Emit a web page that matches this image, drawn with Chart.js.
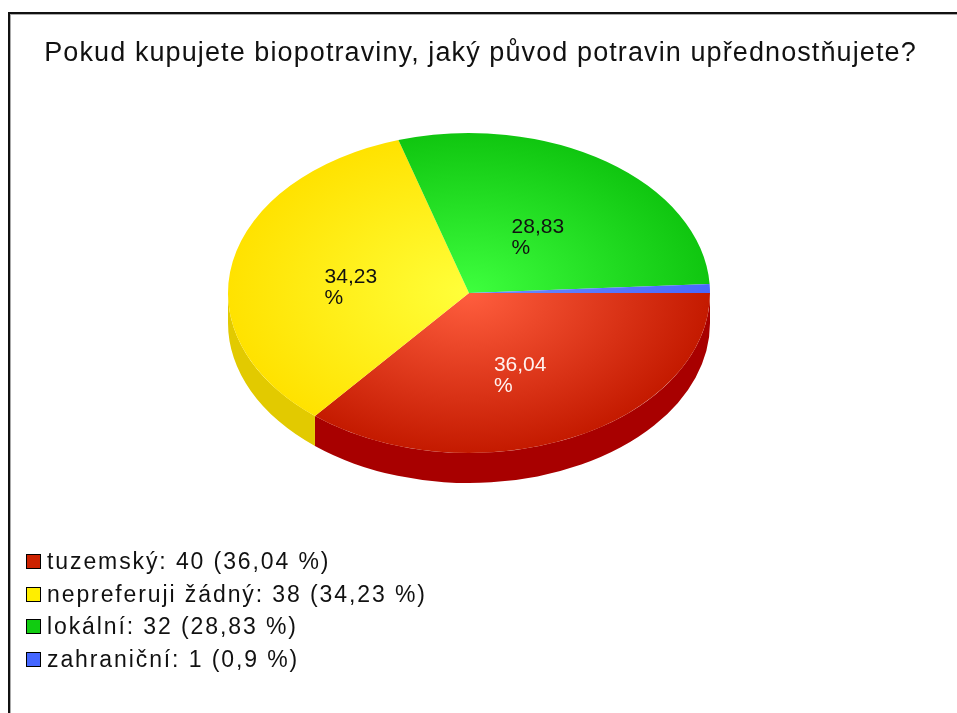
<!DOCTYPE html>
<html lang="cs">
<head>
  <meta charset="UTF-8" />
  <title>Původ biopotravin</title>

  <!-- Chart.js -->
  <script src="https://cdn.jsdelivr.net/npm/chart.js"></script>

  <style>
    html, body { margin: 0; padding: 0; background: #fff; overflow: hidden; }
    body { width: 957px; height: 713px; position: relative; font-family: "Liberation Sans", Arial, sans-serif; color: #111; }
    .frame {
      position: absolute; left: 8px; top: 12px; width: 1000px; height: 800px;
      border-top: 2px solid #111; border-left: 2px solid #111;
      box-shadow: inset 1px 1px 0 #aaa;
    }
    #pieChart { position: absolute; left: 0; top: 0; }
    .title { position: absolute; left: 4px; right: 0; top: 37px; text-align: center; font-size: 27px; line-height: 30px; letter-spacing: 1.1px; white-space: nowrap; }
    .legend { position: absolute; left: 26px; top: 545px; font-size: 23px; letter-spacing: 1.9px; }
    .legend .item { height: 32.7px; display: flex; align-items: center; white-space: nowrap; }
    .legend .box { width: 13px; height: 13px; border: 1px solid #000; margin-right: 6px; flex: none; }
  </style>
</head>
<body>

<div class="frame"></div>
<canvas id="pieChart" width="957" height="713"></canvas>
<div class="title" id="title"></div>
<div class="legend" id="legend"></div>

<script>
  const chartTitle = 'Pokud kupujete biopotraviny, jaký původ potravin upřednostňujete?';
  const categories = ['tuzemský', 'nepreferuji žádný', 'lokální', 'zahraniční'];
  const counts = [40, 38, 32, 1];
  const percentLabels = ['36,04', '34,23', '28,83', '0,9'];

  // Farben: Oberseite (Verlauf hell -> dunkel), Seitenwand, Legende, Beschriftung
  const topLight = ['#ff5e3e', '#ffff3a', '#3eff3e', '#6c8cff'];
  const topDark = ['#c41a00', '#ffe200', '#10c610', '#4868ff'];
  const sideColors = ['#a80000', '#e2ca00', '#0a9a0a', '#3050d0'];
  const legendColors = ['#cc2200', '#ffee00', '#11cc11', '#4466ff'];
  const labelColors = ['#fff2f0', '#111', '#111', '#111'];

  const total = counts.reduce((a, b) => a + b, 0);

  document.getElementById('title').textContent = chartTitle;

  // Legende aus den Daten bauen
  const legendEl = document.getElementById('legend');
  categories.forEach((cat, i) => {
    const row = document.createElement('div');
    row.className = 'item';
    const box = document.createElement('span');
    box.className = 'box';
    box.style.background = legendColors[i];
    row.appendChild(box);
    row.appendChild(document.createTextNode(cat + ': ' + counts[i] + ' (' + percentLabels[i] + ' %)'));
    legendEl.appendChild(row);
  });

  // Pseudo-3D: Seitenwand zeichnen, dann Oberseite vertikal gestaucht
  const pie3d = {
    id: 'pie3d',
    beforeDatasetsDraw(chart, args, opts) {
      const meta = chart.getDatasetMeta(0);
      const c = chart.ctx;
      const first = meta.data[0];
      const cx = first.x, cy = first.y, r = first.outerRadius;
      const k = opts.squash, d = opts.depth;
      meta.data.forEach((arc, i) => {
        const a0 = Math.max(arc.startAngle, 0);
        const a1 = Math.min(arc.endAngle, Math.PI);
        if (a1 <= a0) return;
        c.beginPath();
        c.ellipse(cx, cy, r, r * k, 0, a0, a1);
        c.ellipse(cx, cy + d, r, r * k, 0, a1, a0, true);
        c.closePath();
        c.fillStyle = sideColors[i];
        c.fill();
      });
      c.save();
      c.translate(cx, cy);
      c.scale(1, k);
      c.translate(-cx, -cy);
    },
    afterDatasetsDraw(chart, args, opts) {
      const c = chart.ctx;
      c.restore();
      const meta = chart.getDatasetMeta(0);
      const cy = meta.data[0].y;
      c.save();
      c.font = '21px "Liberation Sans", Arial, sans-serif';
      c.textBaseline = 'middle';
      meta.data.forEach((arc, i) => {
        if (counts[i] / total < 0.05) return;
        const p = arc.getCenterPoint();
        const y = cy + (p.y - cy) * opts.squash;
        const w = c.measureText(percentLabels[i]).width;
        c.fillStyle = labelColors[i];
        c.fillText(percentLabels[i], p.x - w / 2, y);
        c.fillText('%', p.x - w / 2, y + 21);
      });
      c.restore();
    }
  };

  function sliceFill(ctx) {
    const i = ctx.dataIndex;
    const area = ctx.chart.chartArea;
    if (!area) return topDark[i];
    const cx = (area.left + area.right) / 2;
    const cy = (area.top + area.bottom) / 2;
    const r = Math.min(area.width, area.height) / 2;
    const g = ctx.chart.ctx.createRadialGradient(cx, cy, 0, cx, cy, r);
    g.addColorStop(0, topLight[i]);
    g.addColorStop(1, topDark[i]);
    return g;
  }

  new Chart(document.getElementById('pieChart'), {
    type: 'pie',
    data: {
      labels: categories,
      datasets: [{
        data: counts,
        backgroundColor: sliceFill,
        borderWidth: 0
      }]
    },
    options: {
      responsive: false,
      devicePixelRatio: 1,
      animation: false,
      events: [],
      rotation: 90,
      layout: { padding: { left: 228, right: 247, top: 52, bottom: 179 } },
      plugins: {
        legend: { display: false },
        tooltip: { enabled: false },
        pie3d: { squash: 0.664, depth: 30 }
      }
    },
    plugins: [pie3d]
  });
</script>

</body>
</html>
